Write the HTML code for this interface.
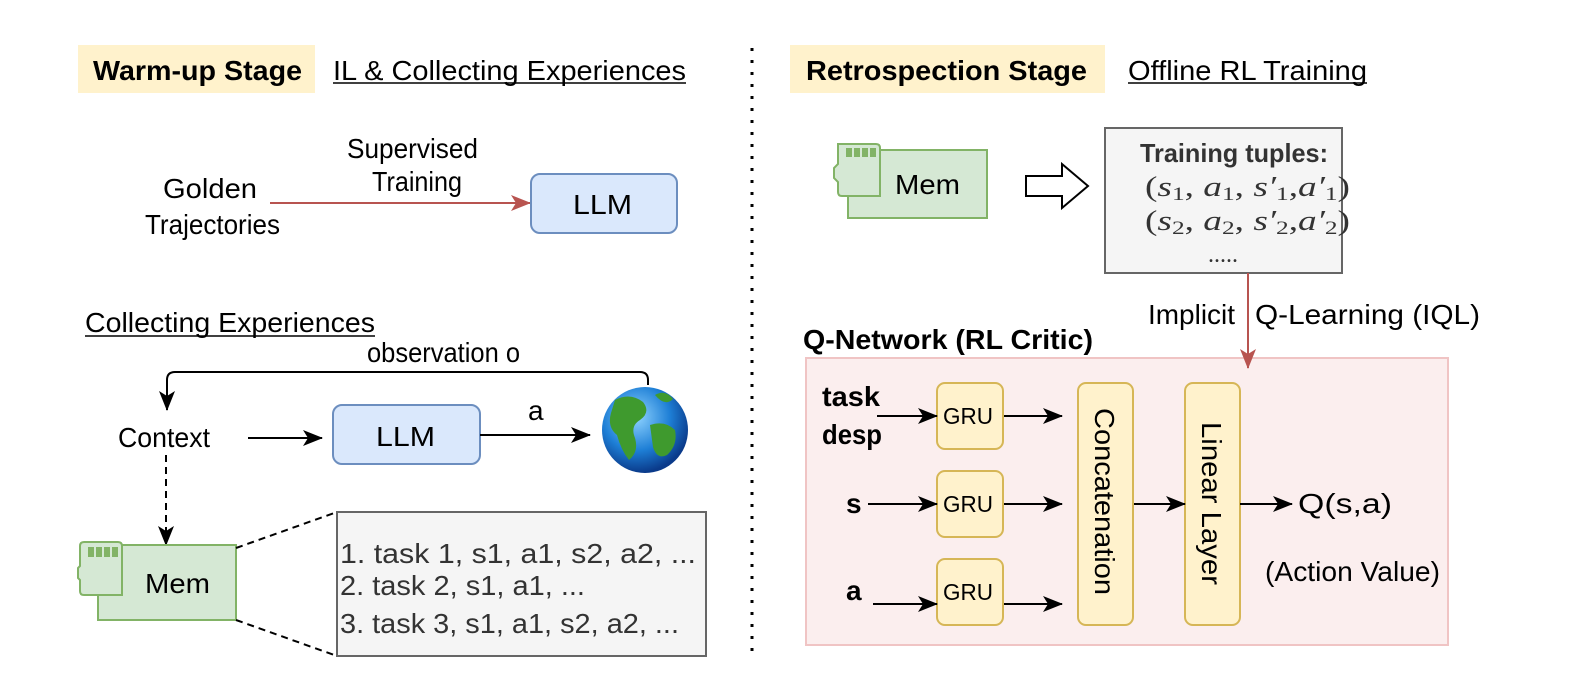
<!DOCTYPE html>
<html><head><meta charset="utf-8"><style>
body{margin:0;background:#fff}
svg{display:block;font-family:"Liberation Sans",Arial,sans-serif}
</style></head><body>
<svg width="1578" height="700" viewBox="0 0 1578 700" xmlns="http://www.w3.org/2000/svg">
<defs>
<marker id="ab" markerWidth="20" markerHeight="16" refX="19" refY="8" orient="auto" markerUnits="userSpaceOnUse"><path d="M0,0 L20,8 L0,16 L5,8 Z" fill="#000"/></marker>
<marker id="ar" markerWidth="20" markerHeight="16" refX="19" refY="8" orient="auto" markerUnits="userSpaceOnUse"><path d="M0,0 L20,8 L0,16 L5,8 Z" fill="#b85450"/></marker>
<radialGradient id="g" cx="40%" cy="35%" r="65%"><stop offset="0" stop-color="#8fd3ff"/><stop offset="0.6" stop-color="#1e7fd6"/><stop offset="1" stop-color="#0a3a8a"/></radialGradient>
</defs>
<g font-size="28">
<!-- headers -->
<rect x="78" y="45" width="237" height="48" fill="#fff2cc"/>
<text x="93" y="80" font-weight="bold" textLength="209" lengthAdjust="spacingAndGlyphs">Warm-up Stage</text>
<text x="333" y="80" textLength="353" lengthAdjust="spacingAndGlyphs">IL &amp; Collecting Experiences</text>
<line x1="333" y1="83" x2="686" y2="83" stroke="#000" stroke-width="1.5"/>
<rect x="790" y="45" width="315" height="48" fill="#fff2cc"/>
<text x="806" y="80" font-weight="bold" textLength="281" lengthAdjust="spacingAndGlyphs">Retrospection Stage</text>
<text x="1128" y="80" textLength="239" lengthAdjust="spacingAndGlyphs">Offline RL Training</text>
<line x1="1128" y1="83" x2="1367" y2="83" stroke="#000" stroke-width="1.5"/>
<line x1="752" y1="48" x2="752" y2="660" stroke="#000" stroke-width="3" stroke-dasharray="3,9"/>

<!-- warm-up -->
<text x="163" y="198" textLength="94" lengthAdjust="spacingAndGlyphs">Golden</text>
<text x="145" y="234" textLength="135" lengthAdjust="spacingAndGlyphs">Trajectories</text>
<text x="347" y="158" textLength="131" lengthAdjust="spacingAndGlyphs">Supervised</text>
<text x="372" y="191" textLength="90" lengthAdjust="spacingAndGlyphs">Training</text>
<line x1="270" y1="203" x2="530" y2="203" stroke="#b85450" stroke-width="2" marker-end="url(#ar)"/>
<rect x="531" y="174" width="146" height="59" rx="9" fill="#dae8fc" stroke="#6c8ebf" stroke-width="2"/>
<text x="573" y="214" textLength="59" lengthAdjust="spacingAndGlyphs">LLM</text>

<text x="85" y="332" textLength="290" lengthAdjust="spacingAndGlyphs">Collecting Experiences</text>
<line x1="85" y1="336" x2="375" y2="336" stroke="#000" stroke-width="1.5"/>
<text x="367" y="362" textLength="153" lengthAdjust="spacingAndGlyphs">observation o</text>
<path d="M648,385 L648,380 Q648,372 640,372 L175,372 Q167,372 167,380 L167,410" fill="none" stroke="#000" stroke-width="2" marker-end="url(#ab)"/>
<text x="118" y="447" textLength="92" lengthAdjust="spacingAndGlyphs">Context</text>
<line x1="248" y1="438" x2="322" y2="438" stroke="#000" stroke-width="2" marker-end="url(#ab)"/>
<rect x="333" y="405" width="147" height="59" rx="9" fill="#dae8fc" stroke="#6c8ebf" stroke-width="2"/>
<text x="376" y="446" textLength="59" lengthAdjust="spacingAndGlyphs">LLM</text>
<line x1="480" y1="435" x2="590" y2="435" stroke="#000" stroke-width="2" marker-end="url(#ab)"/>
<text x="528" y="420">a</text>
<circle cx="645" cy="430" r="43" fill="url(#g)"/>
<path d="M615,400 q15,-8 28,2 q8,10 -3,18 q-10,6 -5,18 q4,14 -6,22 q-8,-10 -12,-25 q-10,-8 -6,-22 Z M650,425 q15,-5 25,5 q3,15 -8,25 q-10,5 -14,-8 Z M655,395 q10,-6 18,4 q-8,8 -18,-4Z" fill="#3f9a2e"/>
<line x1="166" y1="455" x2="166" y2="545" stroke="#000" stroke-width="2" stroke-dasharray="7,5" marker-end="url(#ab)"/>
<!-- mem left -->
<rect x="98" y="545" width="138" height="75" fill="#d5e8d4" stroke="#82b366" stroke-width="2"/>
<path d="M84,542 L118,542 Q122,542 122,546 L122,595 L84,595 Q80,595 80,591 L80,580 L78,578 L78,568 L80,566 L80,546 Q80,542 84,542Z" fill="#d5e8d4" stroke="#82b366" stroke-width="2"/>
<g fill="#82b366"><rect x="88" y="547" width="6" height="10"/><rect x="96" y="547" width="6" height="10"/><rect x="104" y="547" width="6" height="10"/><rect x="112" y="547" width="6" height="10"/></g>
<text x="145" y="593" textLength="65" lengthAdjust="spacingAndGlyphs">Mem</text>
<line x1="236" y1="548" x2="337" y2="512" stroke="#000" stroke-width="2" stroke-dasharray="7,5"/>
<line x1="236" y1="620" x2="337" y2="656" stroke="#000" stroke-width="2" stroke-dasharray="7,5"/>
<rect x="337" y="512" width="369" height="144" fill="#f5f5f5" stroke="#666" stroke-width="2"/>
<g fill="#333"><text x="340" y="563" textLength="356" lengthAdjust="spacingAndGlyphs">1. task 1, s1, a1, s2, a2, ...</text><text x="340" y="595" textLength="245" lengthAdjust="spacingAndGlyphs">2. task 2, s1, a1, ...</text><text x="340" y="633" textLength="339" lengthAdjust="spacingAndGlyphs">3. task 3, s1, a1, s2, a2, ...</text></g>

<!-- right -->
<rect x="848" y="150" width="139" height="68" fill="#d5e8d4" stroke="#82b366" stroke-width="2"/>
<path d="M838,144 L876,144 Q880,144 880,148 L880,196 L842,196 Q838,196 838,192 L838,182 L834,178 L834,168 L838,164 Z" fill="#d5e8d4" stroke="#82b366" stroke-width="2"/>
<g fill="#82b366"><rect x="846" y="148" width="6" height="9"/><rect x="854" y="148" width="6" height="9"/><rect x="862" y="148" width="6" height="9"/><rect x="870" y="148" width="6" height="9"/></g>
<text x="895" y="194" textLength="65" lengthAdjust="spacingAndGlyphs">Mem</text>
<path d="M1026,176 L1062,176 L1062,164 L1088,186 L1062,208 L1062,196 L1026,196 Z" fill="#fff" stroke="#000" stroke-width="2"/>
<rect x="1105" y="128" width="237" height="145" fill="#f5f5f5" stroke="#666" stroke-width="2"/>
<text x="1140" y="162" font-weight="bold" fill="#333" font-size="26" textLength="188" lengthAdjust="spacingAndGlyphs">Training tuples:</text>
<g font-family="'Liberation Serif',serif" font-size="28" fill="#333">
<text x="1145" y="196" textLength="205" lengthAdjust="spacingAndGlyphs">(<tspan font-style="italic">s</tspan><tspan font-size="19" dy="4">1</tspan><tspan dy="-4">, </tspan><tspan font-style="italic">a</tspan><tspan font-size="19" dy="4">1</tspan><tspan dy="-4">, </tspan><tspan font-style="italic">s′</tspan><tspan font-size="19" dy="4">1</tspan><tspan dy="-4">,</tspan><tspan font-style="italic">a′</tspan><tspan font-size="19" dy="4">1</tspan><tspan dy="-4">)</tspan></text>
<text x="1145" y="230" textLength="205" lengthAdjust="spacingAndGlyphs">(<tspan font-style="italic">s</tspan><tspan font-size="19" dy="4">2</tspan><tspan dy="-4">, </tspan><tspan font-style="italic">a</tspan><tspan font-size="19" dy="4">2</tspan><tspan dy="-4">, </tspan><tspan font-style="italic">s′</tspan><tspan font-size="19" dy="4">2</tspan><tspan dy="-4">,</tspan><tspan font-style="italic">a′</tspan><tspan font-size="19" dy="4">2</tspan><tspan dy="-4">)</tspan></text>
<text x="1223" y="262" text-anchor="middle" font-size="24">.....</text></g>
<rect x="806" y="358" width="642" height="287" fill="#fbeeee" stroke="#f0c4c4" stroke-width="2"/>
<line x1="1248" y1="273" x2="1248" y2="368" stroke="#b85450" stroke-width="2" marker-end="url(#ar)"/>
<text x="1148" y="324" textLength="87" lengthAdjust="spacingAndGlyphs">Implicit</text>
<text x="1255" y="324" textLength="225" lengthAdjust="spacingAndGlyphs">Q-Learning (IQL)</text>
<text x="803" y="349" font-weight="bold" textLength="290" lengthAdjust="spacingAndGlyphs">Q-Network (RL Critic)</text>
<g fill="#fff2cc" stroke="#d6b656" stroke-width="2">
<rect x="937" y="383" width="66" height="66" rx="8"/><rect x="937" y="471" width="66" height="66" rx="8"/><rect x="937" y="559" width="66" height="66" rx="8"/>
<rect x="1078" y="383" width="55" height="242" rx="8"/><rect x="1185" y="383" width="55" height="242" rx="8"/></g>
<g font-size="23"><text x="943" y="424" textLength="50" lengthAdjust="spacingAndGlyphs">GRU</text><text x="943" y="512" textLength="50" lengthAdjust="spacingAndGlyphs">GRU</text><text x="943" y="600" textLength="50" lengthAdjust="spacingAndGlyphs">GRU</text></g>
<text transform="translate(1095,408) rotate(90)" font-size="28" textLength="187" lengthAdjust="spacingAndGlyphs">Concatenation</text>
<text transform="translate(1202,422) rotate(90)" font-size="28" textLength="163" lengthAdjust="spacingAndGlyphs">Linear Layer</text>
<g font-weight="bold"><text x="822" y="406" textLength="58" lengthAdjust="spacingAndGlyphs">task</text><text x="822" y="444" textLength="60" lengthAdjust="spacingAndGlyphs">desp</text><text x="846" y="513">s</text><text x="846" y="600">a</text></g>
<g stroke="#000" stroke-width="2" marker-end="url(#ab)">
<line x1="877" y1="416" x2="937" y2="416"/><line x1="868" y1="504" x2="937" y2="504"/><line x1="873" y1="604" x2="937" y2="604"/>
<line x1="1004" y1="416" x2="1062" y2="416"/><line x1="1004" y1="504" x2="1062" y2="504"/><line x1="1004" y1="604" x2="1062" y2="604"/>
<line x1="1134" y1="504" x2="1185" y2="504"/><line x1="1240" y1="504" x2="1292" y2="504"/></g>
<text x="1298" y="513" textLength="94" lengthAdjust="spacingAndGlyphs">Q(s,a)</text>
<text x="1265" y="581" textLength="175" lengthAdjust="spacingAndGlyphs">(Action Value)</text>
</g>
</svg>
</body></html>
